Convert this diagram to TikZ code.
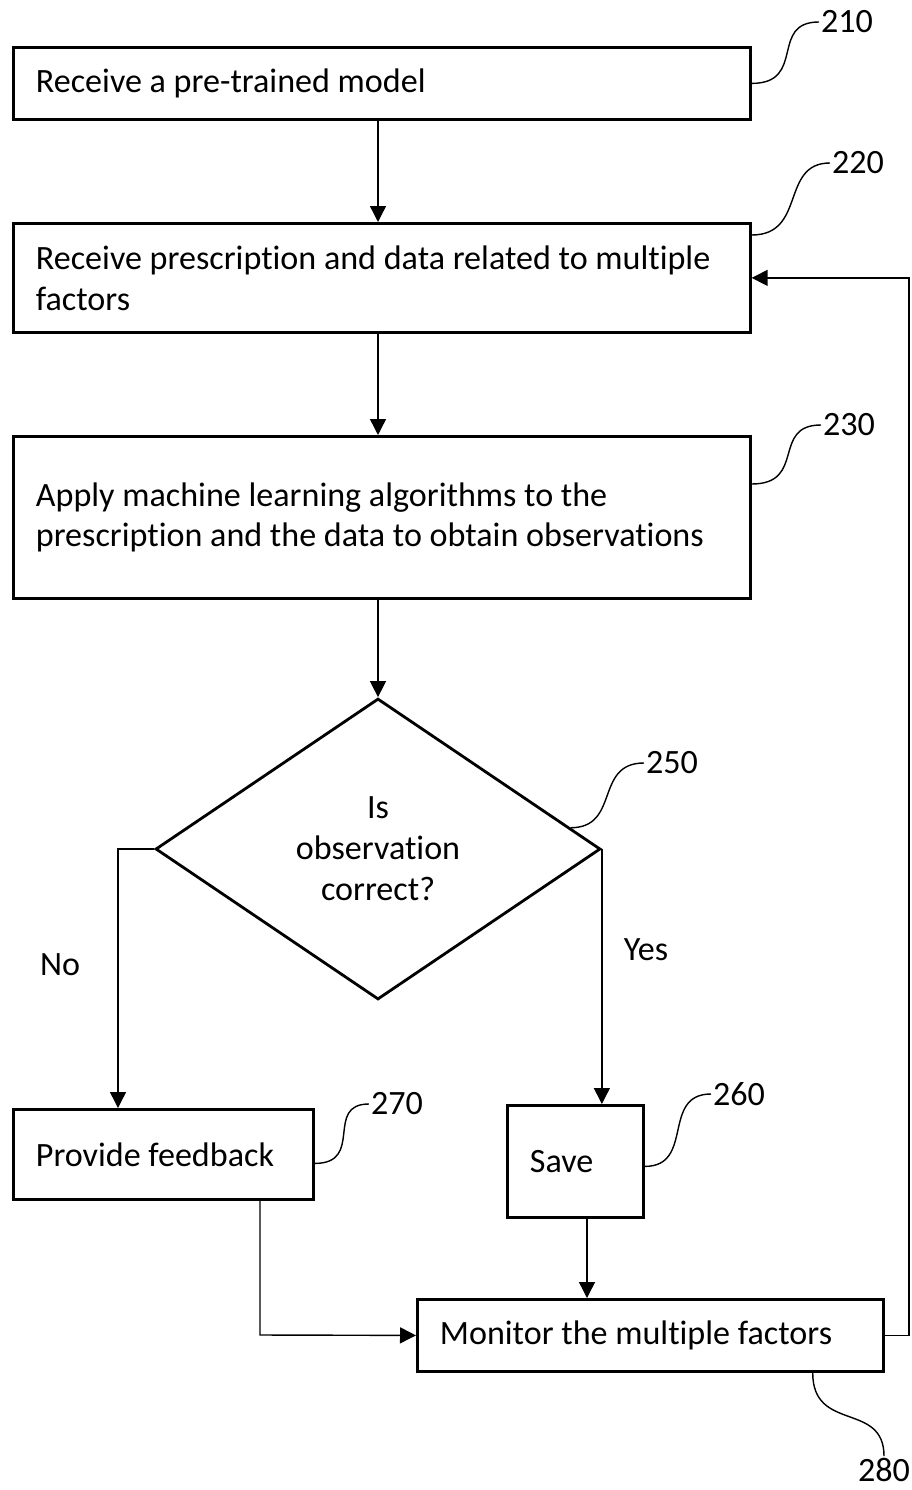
\documentclass[tikz,border=0pt]{standalone}
\usepackage{fontspec}
\setmainfont{Carlito}[Ligatures=NoCommon]
\usetikzlibrary{shapes.geometric, arrows.meta, positioning, calc}

\begin{document}
\begin{tikzpicture}[
    x=0.02cm, y=-0.02cm,
    font=\fontsize{19.4}{23.3}\selectfont,
    box/.style={rectangle, draw, line width=1.6pt, align=flush left, inner xsep=0.45cm, inner ysep=0pt, anchor=north west},
    decision/.style={diamond, draw, line width=1.6pt, align=flush center, inner sep=0pt, minimum width=8.9cm, minimum height=6.02cm},
    arrow/.style={-{Triangle[length=0.32cm, width=0.32cm]}, line width=0.8pt},
    leader/.style={line width=0.8pt},
    refnum/.style={inner sep=1pt}
]
\useasboundingbox (0,0) rectangle (912,1490);

% process boxes
\node[box, text width=13.84cm, minimum height=1.44cm] (b210) at (12,46) {Receive a pre-trained model};
\node[box, text width=13.84cm, minimum height=2.18cm] (b220) at (12,222) {Receive prescription and data related to multiple\\factors};
\node[box, text width=13.84cm, minimum height=3.24cm] (b230) at (12,435) {Apply machine learning algorithms to the\\prescription and the data to obtain observations};
\node[decision] (dec) at (378,849) {Is\\observation\\correct?};
\node[box, text width=5.1cm, minimum height=1.8cm] (b270) at (12,1108) {Provide feedback};
\node[box, text width=1.82cm, minimum height=2.24cm] (b260) at (506,1104) {Save};
\node[box, text width=8.42cm, minimum height=1.44cm] (b280) at (416,1298) {Monitor the multiple factors};

% branch labels
\node (lblno) at (60,965) {No};
\node (lblyes) at (646,950) {Yes};

% reference numerals
\node[refnum] (n210) at (847,22) {210};
\node[refnum] (n220) at (858,163) {220};
\node[refnum] (n230) at (849,425) {230};
\node[refnum] (n250) at (672,763) {250};
\node[refnum] (n270) at (397,1104) {270};
\node[refnum] (n260) at (739,1094) {260};
\node[refnum] (n280) at (884,1470) {280};

% turning points
\coordinate (noturn) at (118,849);
\coordinate (fbturn) at (260,1335);
\coordinate (loopx) at (909,0);
\coordinate (savex) at (587,0);

% flow
\draw[arrow] (b210.south -| dec.north) -- (b220.north -| dec.north);
\draw[arrow] (b220.south -| dec.north) -- (b230.north -| dec.north);
\draw[arrow] (b230.south -| dec.north) -- (dec.north);
\draw[arrow] (dec.west) -- (noturn) -- (noturn |- b270.north);
\draw[arrow] (dec.east) -- (dec.east |- b260.north);
\draw[arrow] (savex |- b260.south) -- (savex |- b280.north);
\draw[arrow] (fbturn |- b270.south) -- (fbturn) -- (b280.west);
\draw[arrow] (b280.east) -- (b280.east -| loopx) |- (b220.east);

% leaders
\draw[leader] (b210.east) .. controls +(55,0) and +(-50,0) .. (n210.west);
\draw[leader] ($(b220.north east)+(0,13)$) .. controls +(55,0) and +(-50,0) .. (n220.west);
\draw[leader] ($(b230.north east)+(0,49)$) .. controls +(55,0) and +(-50,0) .. (n230.west);
\draw[leader] ($(dec.north)!0.86!(dec.east)$) .. controls +(50,0) and +(-50,0) .. (n250.west);
\draw[leader] ($(b270.east)+(0,9)$) .. controls +(50,0) and +(-45,0) .. (n270.west);
\draw[leader] ($(b260.east)+(0,5)$) .. controls +(50,0) and +(-50,0) .. (n260.west);
\draw[leader] ($(b280.south east)+(-72,0)$) .. controls +(0,60) and +(0,-55) .. (n280.north);

\end{tikzpicture}
\end{document}
